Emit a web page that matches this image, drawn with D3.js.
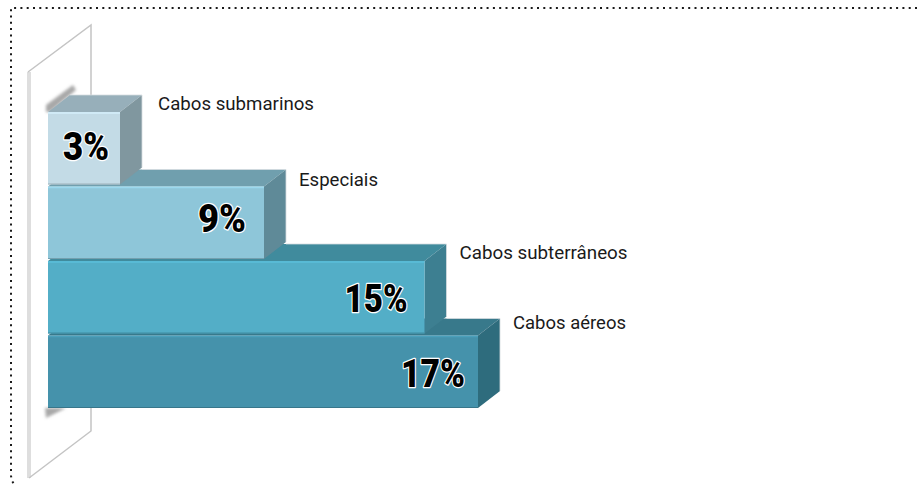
<!DOCTYPE html>
<html><head><meta charset="utf-8">
<script src="https://cdn.jsdelivr.net/npm/d3@7"></script>
<style>html,body{margin:0;padding:0;background:#fff}svg{display:block}</style>
</head><body><svg id="c" width="917" height="487"></svg>
<script>
const categories = ["Cabos submarinos","Especiais","Cabos subterrâneos","Cabos aéreos"];
const values = [3,9,15,17];
const valueLabels = ["3%","9%","15%","17%"];
const frontColors = ["#c3dbe6","#8ec6d9","#53aec7","#4592ab"];
const topColors = ["#97afba","#6f9fae","#3f8b9d","#39798b"];
const sideColors = ["#80979f","#5f8a98","#3e7f91","#2f6c7d"];

const W=917,H=487, DX=22, DY=-17;
const svg=d3.select("#c");
const defs=svg.append("defs");
defs.append("filter").attr("id","blur").attr("x","-50%").attr("y","-50%").attr("width","200%").attr("height","200%")
  .append("feGaussianBlur").attr("stdDeviation",1.8);
defs.append("filter").attr("id","soft").attr("x","-5%").attr("y","-5%").attr("width","110%").attr("height","110%")
  .append("feGaussianBlur").attr("stdDeviation",0.45);

// The picture's bars are not strictly proportional, so the scale has a knee.
const x=d3.scaleLinear().domain([0,9,17]).range([48,264,478]);
const y=d3.scaleBand().domain(categories).range([112,408]).paddingInner(0.027).paddingOuter(0);

// dotted frame
svg.append("path").attr("d",d3.line()([[917,8],[11,8],[11,476],[12,481],[14,484]]))
  .attr("fill","none").attr("stroke","#1a1a1a").attr("stroke-width",2).attr("stroke-dasharray","2 4.3");

// glass plane behind bars
const plane=svg.append("g").attr("fill","none");
plane.append("rect").attr("x",27).attr("y",72).attr("width",4).attr("height",406).attr("fill","#dedede");
plane.append("path").attr("d",d3.line()([[28,72],[91,25],[91,96]])).attr("stroke","#c4c4c4").attr("stroke-width",1.5);
plane.append("path").attr("d",d3.line()([[91,408],[91,431],[29,478]])).attr("stroke","#c4c4c4").attr("stroke-width",1.5);

// soft shadows where bars meet the plane
svg.append("path").attr("d",d3.line()([[46,112],[46,105],[73,85],[76,90],[50,112]])).attr("fill","#a8a8a8").attr("filter","url(#blur)");
svg.append("path").attr("d",d3.line()([[45,408],[66,408],[46,418]])).attr("fill","#a8a8a8").attr("filter","url(#blur)");

// drawn bottom to top so upper bars overlap the lower bars' top faces
const g=svg.append("g").attr("filter","url(#soft)");
d3.range(categories.length-1,-1,-1).forEach(i=>{
  const c=categories[i];
  const x0=x(0),x1=x(values[i]),t=y(c),b=t+y.bandwidth();
  const bar=g.append("g");
  bar.append("path").attr("d",d3.line()([[x0,t],[x0+DX,t+DY],[x1+DX,t+DY],[x1,t]])+"Z").attr("fill",topColors[i]);
  bar.append("path").attr("d",d3.line()([[x1,t],[x1+DX,t+DY],[x1+DX,b+DY],[x1,b]])+"Z").attr("fill",sideColors[i]);
  bar.append("rect").attr("x",x0).attr("y",t).attr("width",x1-x0).attr("height",b-t).attr("fill",frontColors[i]);
  bar.append("line").attr("x1",x0).attr("x2",x1).attr("y1",t+1).attr("y2",t+1).attr("stroke",d3.color(frontColors[i]).brighter(0.25)).attr("stroke-width",1.5);
  bar.append("line").attr("x1",x0).attr("x2",x1).attr("y1",b-0.5).attr("y2",b-0.5).attr("stroke",d3.color(frontColors[i]).darker(0.6)).attr("stroke-width",1.2);
  bar.append("line").attr("x1",x1+DX).attr("x2",x1+DX).attr("y1",t+DY).attr("y2",b+DY).attr("stroke","#d5dcdf").attr("stroke-width",0.8);
  bar.append("line").attr("x1",i?x(values[i-1])+DX:x0+DX).attr("x2",x1+DX).attr("y1",t+DY).attr("y2",t+DY).attr("stroke","#d5dcdf").attr("stroke-width",0.8);
});

// category labels
const nameOffsetX=[16,13,13,13], nameOffsetY=[15,16,15,10], nameWidths=[156,79,168,113];
svg.append("g").selectAll("text").data(categories).join("text")
  .attr("x",(c,i)=>x(values[i])+DX+nameOffsetX[i])
  .attr("y",(c,i)=>y(c)+DY+nameOffsetY[i])
  .attr("textLength",(c,i)=>nameWidths[i]).attr("lengthAdjust","spacingAndGlyphs")
  .attr("font-family","Roboto,sans-serif")
  .attr("font-size",18.5).attr("fill","#1a1a1a").text(c=>c);

// value labels
const valueInset=[11,18,17,13], valueDy=[12,9,15,15], valueWidths=[46,48,63,64];
svg.append("g").selectAll("text").data(valueLabels).join("text")
  .attr("x",(v,i)=>x(values[i])-valueInset[i]-valueWidths[i])
  .attr("y",(v,i)=>y(categories[i])+y.bandwidth()/2+valueDy[i])
  .attr("textLength",(v,i)=>valueWidths[i]).attr("lengthAdjust","spacingAndGlyphs")
  .attr("font-family","Roboto,sans-serif")
  .attr("font-weight",900).attr("font-size",39)
  .attr("fill","#000").attr("stroke","#fff").attr("stroke-width",2.5).attr("paint-order","stroke").attr("stroke-linejoin","round")
  .text(v=>v);
</script></body></html>
